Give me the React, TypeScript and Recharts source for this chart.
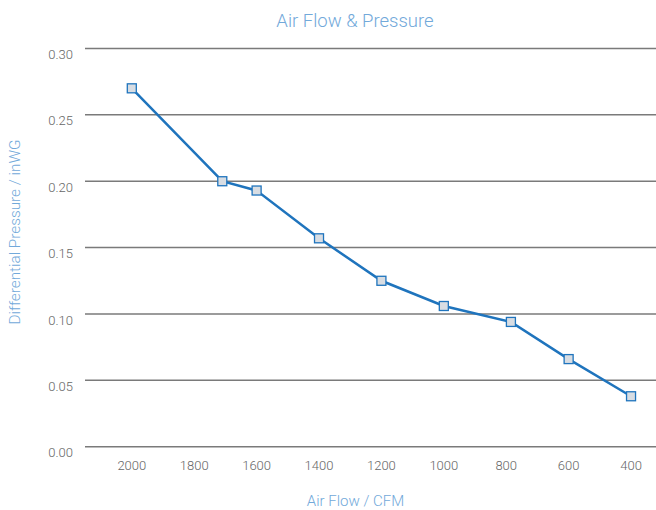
import React from "react";
import { LineChart, Line, XAxis, YAxis, CartesianGrid } from "recharts";

const airFlow = [2000, 1710, 1600, 1400, 1200, 1000, 785, 600, 400];
const pressure = [0.27, 0.2, 0.193, 0.157, 0.125, 0.106, 0.094, 0.066, 0.038];
const xTicks = [2000, 1800, 1600, 1400, 1200, 1000, 800, 600, 400];
const yTicks = [0, 0.05, 0.1, 0.15, 0.2, 0.25, 0.3];

const data = airFlow.map((x, i) => ({ x, y: pressure[i] }));

const FONT = "Roboto, 'Liberation Sans', sans-serif";
const BLUE = "#1f74bd";
const LABEL = "#72a9da";

const SquareDot = (props: any) => {
  const { cx, cy } = props;
  if (cx == null || cy == null) return null;
  return (
    <rect x={cx - 4.5} y={cy - 4.5} width={9} height={9} fill="#d8dde3" stroke={BLUE} strokeWidth={1.3} />
  );
};

export default function App() {
  return (
    <div style={{ position: "absolute", left: 0, top: 0, width: 656, height: 510, background: "#fff", fontFamily: FONT }}>
      <LineChart width={656} height={510} data={data} margin={{ top: 48.5, right: 0, bottom: 0, left: 0 }}>
        <CartesianGrid horizontal vertical={false} stroke="#7a7a7a" strokeWidth={1.5} />
        <XAxis
          dataKey="x"
          type="number"
          domain={[320, 2150]}
          reversed
          ticks={xTicks}
          axisLine={false}
          tickLine={false}
          tickSize={0}
          tickMargin={14}
          height={63.3}
          tick={{ fill: "#666", fontSize: 13, fontFamily: FONT, fontWeight: 300 }}
          interval={0}
        />
        <YAxis
          type="number"
          domain={[0, 0.3]}
          ticks={yTicks}
          axisLine={false}
          tickLine={false}
          tickSize={0}
          tickMargin={12}
          width={85}
          tickFormatter={(v: number) => v.toFixed(2)}
          tick={{ fill: "#666", fontSize: 13, fontFamily: FONT, fontWeight: 300, dy: 6 }}
        />
        <Line
          dataKey="y"
          stroke={BLUE}
          strokeWidth={2.5}
          dot={<SquareDot />}
          activeDot={false}
          isAnimationActive={false}
        />
      </LineChart>
      <div style={{ position: "absolute", left: 0, width: 710, top: 10, textAlign: "center", color: LABEL, fontSize: 18.5, fontWeight: 300 }}>
        Air Flow &amp; Pressure
      </div>
      <div style={{ position: "absolute", left: 0, width: 711, top: 492, textAlign: "center", color: LABEL, fontSize: 15, fontWeight: 300 }}>
        Air Flow / CFM
      </div>
      <div
        style={{
          position: "absolute",
          left: 15,
          top: 232,
          transform: "translate(-50%, -50%) rotate(-90deg)",
          whiteSpace: "nowrap",
          color: LABEL,
          fontSize: 15.3,
          fontWeight: 300,
        }}
      >
        Differential Pressure / inWG
      </div>
    </div>
  );
}
